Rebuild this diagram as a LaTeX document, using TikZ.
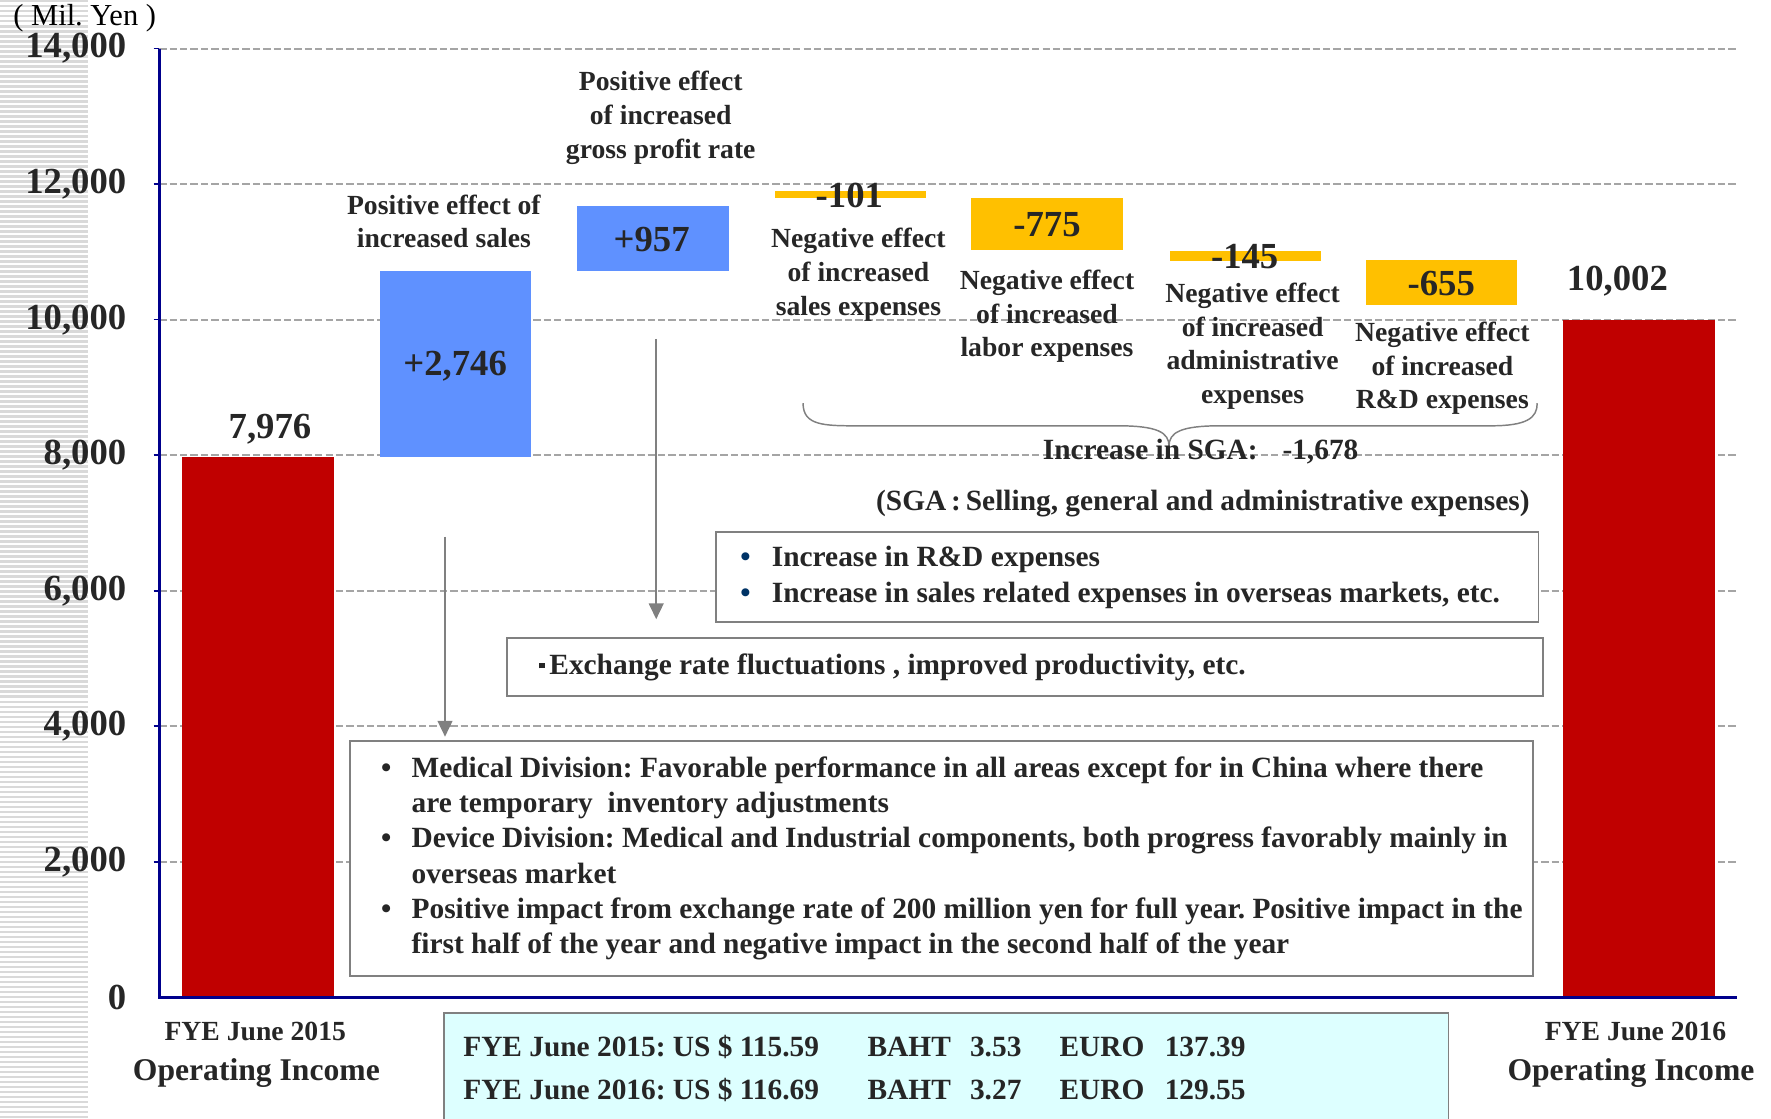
\documentclass[tikz,border=0pt]{standalone}
\usepackage{fontspec}
\setmainfont{Liberation Serif}
\usetikzlibrary{positioning}
\usetikzlibrary{arrows.meta}
\frenchspacing

\definecolor{barred}{RGB}{192,0,0}
\definecolor{barblue}{RGB}{95,145,255}
\definecolor{baryellow}{RGB}{255,192,0}
\definecolor{axisblue}{RGB}{0,0,140}
\definecolor{gridgray}{RGB}{165,165,165}
\definecolor{stripegray}{RGB}{217,217,217}
\definecolor{boxgray}{RGB}{128,128,128}
\definecolor{ratecyan}{RGB}{221,255,255}
\definecolor{dotblue}{RGB}{0,51,102}
\definecolor{inkgray}{RGB}{38,38,38}

\newcommand\valfont{\fontsize{32.5}{36}\selectfont\bfseries}
\newcommand\lblfont{\fontsize{24.5}{30}\selectfont\bfseries}
\newcommand\itm{\makebox[27pt][l]{\textbullet}}
\newcommand\dotitm{\makebox[28pt][l]{\textcolor{dotblue}{\textbullet}}}
\newcommand\cnt{\hspace*{27pt}}

\begin{document}
\begin{tikzpicture}[x=1pt,y=-1pt,
  bar/.style={inner sep=0pt, minimum width=134pt, anchor=north},
  val/.style={font=\valfont, text=inkgray, inner sep=0pt},
  lbl/.style={font=\lblfont, text=inkgray, align=center, inner sep=0pt},
  infobox/.style={draw=boxgray, line width=1.5pt, fill=white, inner sep=0pt},
  boxtxt/.style={text=inkgray, align=left, inner sep=0pt},
  arr/.style={-{Triangle[length=14pt,width=13pt]}, draw=boxgray, line width=1.8pt},
  gridline/.style={gridgray, dash pattern=on 6.5pt off 2.7pt, line width=1.8pt}]
  \useasboundingbox (0,0) rectangle (1568,990);

  % striped strip on the left
  \foreach \s in {0,...,223}
    \fill[stripegray] (0,\s*4.43) rectangle (78,\s*4.43+2.2);

  % grid and ticks
  \foreach \k in {1,...,7}{
    \draw[gridline] (141,883-120*\k) -- (1538,883-120*\k);
    \draw[axisblue, line width=1.5pt] (136,883-120*\k) -- (141,883-120*\k);
  }

  % bars
  \node[bar, fill=barred, minimum height=478.6pt] (fy15) at (228.5,404.4) {};
  \node[bar, fill=barblue, minimum height=164.4pt] (sales) at (403,240) {};
  \node[bar, fill=barblue, minimum height=57.7pt] (gross) at (578,182.3) {};
  \node[bar, fill=baryellow, minimum height=6pt] (salesexp) at (753,169) {};
  \node[bar, fill=baryellow, minimum height=46pt] (labor) at (927,175) {};
  \node[bar, fill=baryellow, minimum height=9pt] (admin) at (1102.5,222) {};
  \node[bar, fill=baryellow, minimum height=40pt] (rnd) at (1276.5,230) {};
  \node[bar, fill=barred, minimum height=600pt] (fy16) at (1451,283) {};

  % axes
  \draw[axisblue, line width=2.5pt] (141,43) -- (141,883) -- (1538,883);

  % axis labels
  \node[font=\fontsize{27}{30}\selectfont, text=black, inner sep=0pt] (unit) at (75,16) {( Mil. Yen )};
  \foreach \k in {0,...,7}
    \node[val, anchor=east] (tick\k) at (112,883-120*\k) {\ifnum\k=0 0\else\number\numexpr2*\k\relax,000\fi};

  % values
  \node[val] (v15) at (239,380) {7,976};
  \node[val] (vsales) at (403,324) {+2,746};
  \node[val] (vgross) at (577,212) {+957};
  \node[val] (vsalesexp) at (752,173) {-101};
  \node[val] (vlabor) at (927,199) {-775};
  \node[val] (vadmin) at (1102,227) {-145};
  \node[val] (vrnd) at (1276,251) {-655};
  \node[val] (v16) at (1432,249) {10,002};

  % descriptions
  \node[lbl] (dsales) at (393,196) {Positive effect of\\increased sales};
  \node[lbl] (dgross) at (585,104) {Positive effect\\of increased\\gross profit rate};
  \node[lbl] (dsalesexp) at (760,243) {Negative effect\\of increased\\sales expenses};
  \node[lbl] (dlabor) at (927,280) {Negative effect\\of increased\\labor expenses};
  \node[lbl] (dadmin) at (1109,306.5) {Negative effect\\of increased\\administrative\\expenses};
  \node[lbl] (drnd) at (1277,326) {Negative effect\\of increased\\R\&D expenses};

  % brace over the SGA items
  \draw[boxgray, line width=1.3pt] (711,357) .. controls (711,377) and (730,377) .. (760,377)
    -- (990,377) .. controls (1025,377) and (1035,383) .. (1035,395)
    .. controls (1035,383) and (1045,377) .. (1080,377)
    -- (1320,377) .. controls (1352,377) and (1361,370) .. (1361,357);
  \node[lbl, font=\fontsize{26}{30}\selectfont\bfseries] (sga) at (1063,400) {Increase in SGA:\hspace{22pt}-1,678};
  \node[lbl, font=\fontsize{26}{30}\selectfont\bfseries] (sganote) at (1065,446) {(SGA\,:\,Selling, general and administrative expenses)};

  % comment boxes
  \node[infobox, minimum width=728pt, minimum height=80pt] (rdbox) at (998,511) {};
  \node[boxtxt, font=\fontsize{26}{32}\selectfont\bfseries, right=22pt of rdbox.west] (rdtxt)
    {\dotitm Increase in R\&D expenses\\\dotitm Increase in sales related expenses in overseas markets, etc.};
  \node[infobox, minimum width=917pt, minimum height=51pt] (exbox) at (907.5,590.5) {};
  \node[boxtxt, font=\fontsize{26}{30}\selectfont\bfseries, right=29pt of exbox.west] (extxt)
    {\rule[5pt]{5pt}{5pt}\hspace{4pt}Exchange rate fluctuations , improved productivity, etc.};
  \node[infobox, minimum width=1047pt, minimum height=208pt] (medbox) at (833.5,760) {};
  \node[boxtxt, font=\fontsize{26}{31.2}\selectfont\bfseries, right=28pt of medbox.west] (medtxt)
    {\itm Medical Division: Favorable performance in all areas except for in China where there\\
     \cnt are temporary\ \ inventory adjustments\\
     \itm Device Division: Medical and Industrial components, both progress favorably mainly in\\
     \cnt overseas market\\
     \itm Positive impact from exchange rate of 200 million yen for full year. Positive impact in the\\
     \cnt first half of the year and negative impact in the second half of the year};

  % arrows
  \coordinate (grossfrom) at (581,300);
  \coordinate (salesfrom) at (394,475);
  \draw[arr, shorten >=16pt] (grossfrom) -- (grossfrom |- exbox.north);
  \draw[arr, shorten >=3pt] (salesfrom) -- (salesfrom |- medbox.north);

  % category labels
  \node[lbl] (y15) at (226,913) {FYE June 2015};
  \node[lbl, font=\fontsize{28}{32}\selectfont\bfseries] (op15) at (227,950) {Operating Income};
  \node[lbl] (y16) at (1448,913) {FYE June 2016};
  \node[lbl, font=\fontsize{28}{32}\selectfont\bfseries] (op16) at (1444,950) {Operating Income};

  % exchange rates
  \node[fill=ratecyan, minimum width=889pt, minimum height=95pt, anchor=north west, inner sep=0pt] (ratebox) at (393,897) {};
  \draw[boxgray, line width=1.5pt] (ratebox.south west) |- (ratebox.north east) -- (ratebox.south east);
  \node[boxtxt, font=\fontsize{26}{30}\selectfont\bfseries, anchor=west] (rate15) at (410,927)
    {\makebox[358pt][l]{FYE June 2015: US \$ 115.59}\makebox[170pt][l]{BAHT\hspace{17pt}3.53}EURO\hspace{18pt}137.39};
  \node[boxtxt, font=\fontsize{26}{30}\selectfont\bfseries, anchor=west] (rate16) at (410,965)
    {\makebox[358pt][l]{FYE June 2016: US \$ 116.69}\makebox[170pt][l]{BAHT\hspace{17pt}3.27}EURO\hspace{18pt}129.55};
\end{tikzpicture}
\end{document}
